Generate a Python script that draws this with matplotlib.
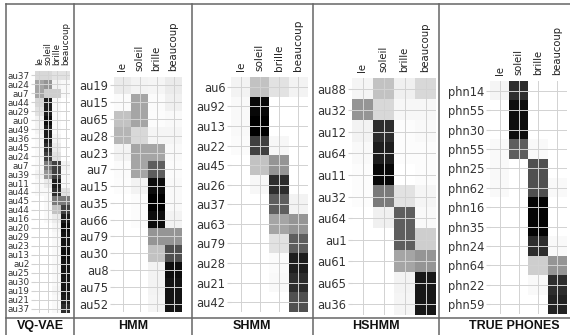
import matplotlib
matplotlib.use('Agg')
import matplotlib.pyplot as plt
from matplotlib.lines import Line2D
import numpy as np

# word columns shared by every panel
words = ['le', 'soleil', 'brille', 'beaucoup']

vqvae_units = ['au37', 'au24', 'au7', 'au44', 'au29', 'au0', 'au49', 'au36', 'au45',
               'au24', 'au7', 'au39', 'au11', 'au44', 'au45', 'au44', 'au16', 'au20',
               'au29', 'au23', 'au13', 'au2', 'au25', 'au30', 'au19', 'au21', 'au37']
vqvae_probs = [
    [0.25, 0.25, 0.20, 0.20],
    [0.45, 0.50, 0.10, 0.05],
    [0.45, 0.30, 0.30, 0.05],
    [0.25, 0.90, 0.05, 0.00],
    [0.20, 0.90, 0.05, 0.00],
    [0.10, 0.95, 0.05, 0.00],
    [0.10, 0.90, 0.05, 0.00],
    [0.05, 0.90, 0.10, 0.00],
    [0.05, 0.85, 0.15, 0.00],
    [0.05, 0.80, 0.20, 0.00],
    [0.05, 0.60, 0.80, 0.10],
    [0.10, 0.50, 0.80, 0.05],
    [0.05, 0.15, 0.90, 0.05],
    [0.05, 0.05, 0.85, 0.20],
    [0.00, 0.05, 0.60, 0.60],
    [0.00, 0.05, 0.35, 0.80],
    [0.00, 0.05, 0.15, 0.90],
    [0.00, 0.00, 0.08, 0.95],
    [0.00, 0.00, 0.05, 0.93],
    [0.00, 0.00, 0.05, 0.93],
    [0.00, 0.00, 0.05, 0.95],
    [0.00, 0.00, 0.05, 0.93],
    [0.00, 0.00, 0.05, 0.93],
    [0.00, 0.00, 0.05, 0.92],
    [0.00, 0.00, 0.08, 0.92],
    [0.00, 0.00, 0.05, 0.90],
    [0.00, 0.00, 0.05, 0.85],
]

hmm_units = ['au19', 'au15', 'au65', 'au28', 'au23', 'au7', 'au15', 'au35', 'au66',
             'au79', 'au30', 'au8', 'au75', 'au52']
hmm_probs = [
    [0.15, 0.10, 0.08, 0.15],
    [0.03, 0.45, 0.03, 0.12],
    [0.35, 0.45, 0.02, 0.05],
    [0.40, 0.25, 0.08, 0.08],
    [0.10, 0.45, 0.45, 0.05],
    [0.03, 0.45, 0.70, 0.03],
    [0.02, 0.10, 0.95, 0.05],
    [0.00, 0.02, 1.00, 0.05],
    [0.00, 0.02, 0.95, 0.10],
    [0.00, 0.00, 0.50, 0.50],
    [0.00, 0.00, 0.35, 0.75],
    [0.00, 0.00, 0.10, 0.95],
    [0.00, 0.00, 0.10, 0.93],
    [0.00, 0.00, 0.08, 0.93],
]

shmm_units = ['au6', 'au92', 'au13', 'au22', 'au45', 'au26', 'au37', 'au63', 'au79',
              'au28', 'au21', 'au42']
shmm_probs = [
    [0.10, 0.35, 0.20, 0.10],
    [0.05, 0.97, 0.00, 0.00],
    [0.05, 1.00, 0.00, 0.00],
    [0.03, 0.80, 0.07, 0.00],
    [0.00, 0.35, 0.50, 0.00],
    [0.00, 0.07, 0.85, 0.00],
    [0.00, 0.00, 0.70, 0.10],
    [0.00, 0.00, 0.45, 0.50],
    [0.00, 0.00, 0.20, 0.70],
    [0.00, 0.00, 0.03, 0.90],
    [0.00, 0.00, 0.05, 0.85],
    [0.00, 0.00, 0.00, 0.75],
]

hshmm_units = ['au88', 'au32', 'au12', 'au64', 'au11', 'au32', 'au64', 'au1', 'au61',
               'au65', 'au36']
hshmm_probs = [
    [0.08, 0.35, 0.12, 0.25],
    [0.50, 0.25, 0.07, 0.07],
    [0.10, 0.85, 0.02, 0.05],
    [0.05, 0.90, 0.02, 0.02],
    [0.02, 0.97, 0.00, 0.02],
    [0.02, 0.60, 0.20, 0.08],
    [0.00, 0.12, 0.70, 0.05],
    [0.00, 0.00, 0.70, 0.30],
    [0.00, 0.00, 0.45, 0.50],
    [0.00, 0.00, 0.10, 0.92],
    [0.00, 0.00, 0.08, 0.92],
]

true_units = ['phn14', 'phn55', 'phn30', 'phn55', 'phn25', 'phn62', 'phn16', 'phn35',
              'phn24', 'phn64', 'phn22', 'phn59']
true_probs = [
    [0.08, 0.85, 0.00, 0.00],
    [0.00, 0.95, 0.00, 0.00],
    [0.00, 0.95, 0.00, 0.00],
    [0.05, 0.70, 0.05, 0.00],
    [0.05, 0.00, 0.75, 0.00],
    [0.05, 0.00, 0.75, 0.05],
    [0.00, 0.00, 0.98, 0.00],
    [0.00, 0.00, 0.98, 0.00],
    [0.00, 0.00, 0.85, 0.05],
    [0.00, 0.00, 0.30, 0.50],
    [0.00, 0.00, 0.05, 0.85],
    [0.00, 0.00, 0.00, 0.88],
]

W, H = 570, 335


def add_panel(fig, box, units, probs, title, title_x, row_fs, col_fs):
    """draw one alignment heatmap; box is (left, right, top, bottom) in pixels"""
    left, right, top, bottom = box
    ax = fig.add_axes([left / W, 1 - bottom / H, (right - left) / W, (bottom - top) / H])
    ax.imshow(np.array(probs), cmap='Greys', vmin=0, vmax=1, aspect='auto',
              interpolation='nearest')
    ax.xaxis.tick_top()
    ax.set_xticks(range(len(words)))
    ax.set_xticklabels(words, rotation=90, fontsize=col_fs, color='#222222')
    ax.set_yticks(range(len(units)))
    ax.set_yticklabels(units, fontsize=row_fs, color='#333333')
    ax.set_axisbelow(False)
    ax.grid(True, color='#d2d2d2', linewidth=0.7)
    for s in ax.spines.values():
        s.set_visible(False)
    ax.tick_params(axis='y', length=3, color='#d2d2d2', pad=1)
    ax.tick_params(axis='x', length=0, pad=4)
    fig.text(title_x / W, 1 - 326 / H, title, ha='center', va='center',
             fontweight='bold', fontsize=9, family='Liberation Sans', color='#111111')


fig = plt.figure(figsize=(W / 100, H / 100), dpi=100)

add_panel(fig, (35, 70, 71, 313), vqvae_units, vqvae_probs, 'VQ-VAE', 40, 6.3, 6.3)
add_panel(fig, (114, 182, 77, 312), hmm_units, hmm_probs, 'HMM', 133, 8.3, 7.3)
add_panel(fig, (231, 308, 77, 312), shmm_units, shmm_probs, 'SHMM', 252, 8.3, 7.5)
add_panel(fig, (352, 436, 78, 315), hshmm_units, hshmm_probs, 'HSHMM', 376, 8.3, 7.3)
add_panel(fig, (490, 567, 81, 314), true_units, true_probs, 'TRUE PHONES', 514, 8.3, 7.2)

# table frame around the panels
line_kw = dict(color='#666666', linewidth=1.1, transform=fig.transFigure)
fig.add_artist(Line2D([6 / W, 1], [1 - 4 / H, 1 - 4 / H], **line_kw))
fig.add_artist(Line2D([6 / W, 1], [1 - 318 / H, 1 - 318 / H], **line_kw))
for xp in [6, 74, 192, 313, 439]:
    fig.add_artist(Line2D([xp / W, xp / W], [0, 1 - 4 / H], **line_kw))

fig.savefig('out.png', dpi=100)
